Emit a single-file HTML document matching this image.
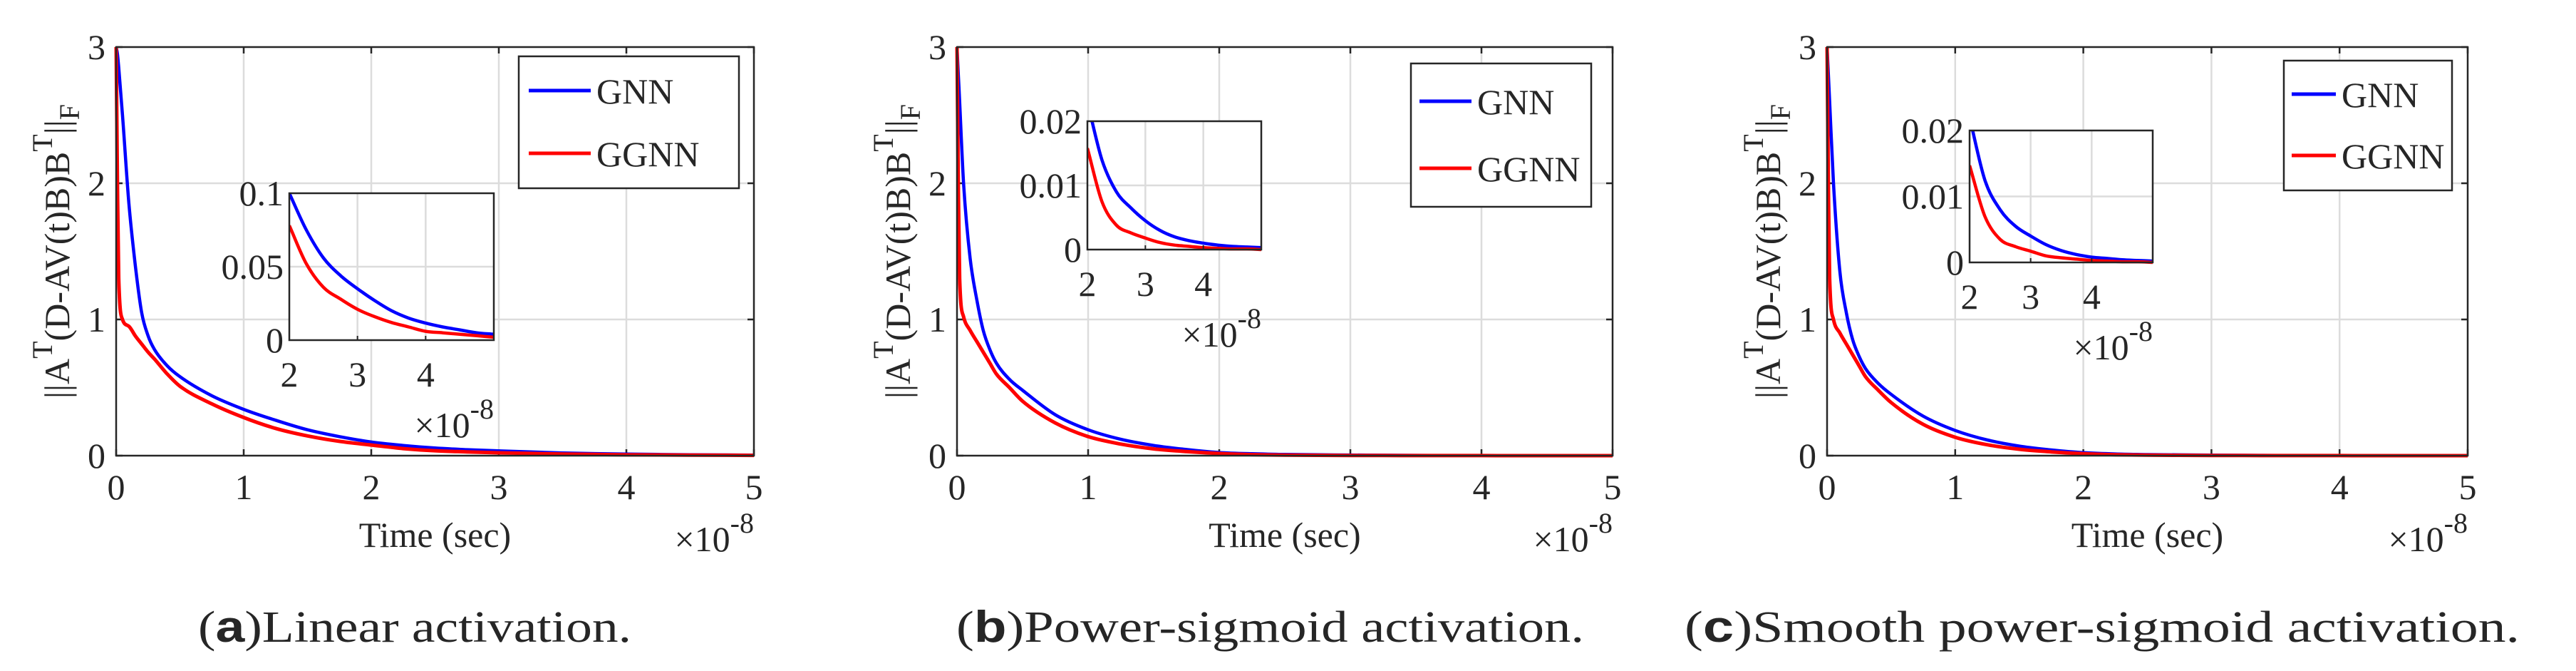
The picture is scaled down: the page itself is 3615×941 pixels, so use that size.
<!DOCTYPE html>
<html><head><meta charset="utf-8"><style>
html,body{margin:0;padding:0;background:#fff}
svg{display:block}
text{font-family:"Liberation Serif",serif;fill:#262626}
</style></head><body>
<svg id="fig" width="3615" height="941" viewBox="0 0 3615 941" xmlns="http://www.w3.org/2000/svg"></svg>
<script>
const times = [0,0.01,0.02,0.05,0.1,0.15,0.2,0.25,0.3,0.4,0.5,0.75,1,1.25,1.5,1.75,2,2.25,2.5,2.75,3,3.25,3.5,3.75,4,4.25,4.5,4.75,5];
const gnnA  = [3,2.95,2.85,2.5,1.85,1.4,1.05,0.88,0.78,0.66,0.58,0.44,0.34,0.26,0.19,0.14,0.1,0.075,0.056,0.044,0.035,0.027,0.02,0.015,0.0116,0.009,0.007,0.005,0.004];
const ggnnA = [3,2.0,1.3,1.0,0.95,0.88,0.82,0.76,0.71,0.6,0.51,0.38,0.28,0.2,0.145,0.105,0.078,0.052,0.036,0.028,0.021,0.016,0.012,0.009,0.006,0.005,0.004,0.003,0.002];
const gnnB  = [3,2.8,2.6,2.0,1.45,1.15,0.92,0.78,0.68,0.56,0.48,0.3,0.19,0.12,0.075,0.045,0.023,0.014,0.009,0.0065,0.0045,0.003,0.002,0.0014,0.001,0.0007,0.0005,0.0004,0.0003];
const ggnnB = [3,2.0,1.3,1.02,0.92,0.84,0.76,0.68,0.6,0.5,0.4,0.24,0.14,0.085,0.05,0.03,0.0158,0.0075,0.0038,0.0026,0.0018,0.0011,0.0007,0.0005,0.0003,0.0002,0.0001,0.0001,0];
const gnnC  = [3,2.8,2.6,2.0,1.35,1.05,0.85,0.73,0.64,0.53,0.45,0.29,0.185,0.115,0.07,0.042,0.022,0.0125,0.008,0.0055,0.004,0.0027,0.0018,0.0012,0.0008,0.0006,0.0004,0.0003,0.0002];
const ggnnC = [3,2.0,1.3,1.0,0.9,0.82,0.74,0.66,0.58,0.48,0.39,0.23,0.135,0.08,0.047,0.028,0.0147,0.007,0.0035,0.0024,0.0017,0.001,0.0007,0.0005,0.0003,0.0002,0.0001,0.0001,0];
const mainXTicks = [0,1,2,3,4,5];
const mainYTicks = [0,1,2,3];
const insetXTicks = [2,3,4];
const insetYTicksA = [0,0.05,0.1];
const insetYTicksBC = [0,0.01,0.02];
const legendLabels = ['GNN','GGNN'];
const captions = ['Linear activation.','Power-sigmoid activation.','Smooth power-sigmoid activation.'];

const NS='http://www.w3.org/2000/svg';
const svg=document.getElementById('fig');
function mk(tag,attrs,parent){const e=document.createElementNS(NS,tag);for(const k in attrs)e.setAttribute(k,attrs[k]);(parent||svg).appendChild(e);return e;}
// monotone cubic path (Fritsch-Carlson)
function monoPath(P){
  const n=P.length;if(n<2)return '';
  const d=[],m=[];
  for(let i=0;i<n-1;i++)d.push((P[i+1][1]-P[i][1])/(P[i+1][0]-P[i][0]||1e-9));
  m[0]=d[0];m[n-1]=d[n-2];
  for(let i=1;i<n-1;i++){m[i]=(d[i-1]*d[i]<=0)?0:(d[i-1]+d[i])/2;}
  for(let i=0;i<n-1;i++){
    if(d[i]===0){m[i]=0;m[i+1]=0;continue;}
    const a=m[i]/d[i],b=m[i+1]/d[i],s=a*a+b*b;
    if(s>9){const t=3/Math.sqrt(s);m[i]=t*a*d[i];m[i+1]=t*b*d[i];}
  }
  let s='M'+P[0][0].toFixed(1)+','+P[0][1].toFixed(1);
  for(let i=0;i<n-1;i++){
    const h=(P[i+1][0]-P[i][0])/3;
    s+=' C'+(P[i][0]+h).toFixed(1)+','+(P[i][1]+m[i]*h).toFixed(1)+' '+(P[i+1][0]-h).toFixed(1)+','+(P[i+1][1]-m[i+1]*h).toFixed(1)+' '+P[i+1][0].toFixed(1)+','+P[i+1][1].toFixed(1);
  }
  return s;
}

const panels=[
 {id:'a',L:163,R:1058,T:66,B:639,gnn:gnnA,ggnn:ggnnA,
  leg:{x1:728,x2:1037,y1:79,y2:264,l1:742,l2:829,r1:127,r2:215},
  ins:{L:406,R:693,T:271,B:477,ymax:0.1,yt:insetYTicksA},
  cap:{x1:278,x2:886}},
 {id:'b',L:1343,R:2263,T:66,B:639,gnn:gnnB,ggnn:ggnnB,
  leg:{x1:1980,x2:2233,y1:89,y2:290,l1:1992,l2:2065,r1:142,r2:236},
  ins:{L:1526,R:1770,T:170,B:350,ymax:0.02,yt:insetYTicksBC},
  cap:{x1:1342,x2:2223}},
 {id:'c',L:2564,R:3463,T:66,B:639,gnn:gnnC,ggnn:ggnnC,
  leg:{x1:3205,x2:3441,y1:85,y2:267,l1:3216,l2:3278,r1:132,r2:218},
  ins:{L:2764,R:3021,T:183,B:368,ymax:0.02,yt:insetYTicksBC},
  cap:{x1:2364,x2:3536}}
];

panels.forEach((p,pi)=>{
  const g=mk('g',{});
  
  
  const xs=v=>p.L+(v-0)/5*(p.R-p.L);
  const ys=v=>p.B-(v/3)*(p.B-p.T);
  mainXTicks.forEach(t=>{if(t>0&&t<5){const l=mk('line',{x1:xs(t),x2:xs(t),y1:p.T,y2:p.B,stroke:'#dcdcdc','stroke-width':2.5},g);
    }});
  mainYTicks.forEach(t=>{if(t>0&&t<3){const l=mk('line',{x1:p.L,x2:p.R,y1:ys(t),y2:ys(t),stroke:'#dcdcdc','stroke-width':2.5},g);
    }});
  mainXTicks.forEach(t=>{
    mk('line',{x1:xs(t),x2:xs(t),y1:p.B,y2:p.B-9,stroke:'#262626','stroke-width':2.5},g);
    mk('line',{x1:xs(t),x2:xs(t),y1:p.T,y2:p.T+9,stroke:'#262626','stroke-width':2.5},g);
    const tx=mk('text',{x:xs(t),y:700,'font-size':50,'text-anchor':'middle'},g);tx.textContent=t;
    
  });
  mainYTicks.forEach(t=>{
    mk('line',{x1:p.L,x2:p.L+9,y1:ys(t),y2:ys(t),stroke:'#262626','stroke-width':2.5},g);
    mk('line',{x1:p.R,x2:p.R-9,y1:ys(t),y2:ys(t),stroke:'#262626','stroke-width':2.5},g);
    const tx=mk('text',{x:p.L-15,y:ys(t)+17,'font-size':50,'text-anchor':'end'},g);tx.textContent=t;
    
  });
  const cid='clip-'+p.id;
  const cp=mk('clipPath',{id:cid},g);mk('rect',{x:p.L-3,y:p.T-3,width:p.R-p.L+6,height:p.B-p.T+6},cp);
  [['gnn','#0000ff',4.5],['ggnn','#ff0000',5]].forEach(([k,c,w])=>{
    const P=times.map((t,i)=>[xs(t),ys(p[k][i])]);
    const pl=mk('path',{d:monoPath(P),fill:'none',stroke:c,'stroke-width':w,'stroke-linejoin':'round','clip-path':'url(#'+cid+')'},g);
    
  });
  const box=mk('rect',{x:p.L,y:p.T,width:p.R-p.L,height:p.B-p.T,fill:'none',stroke:'#262626','stroke-width':2.5},g);
  
  const xl=mk('text',{x:(p.L+p.R)/2,y:767,'font-size':50,'text-anchor':'middle'},g);xl.textContent='Time (sec)';
  
  const ex=mk('text',{x:p.R,y:773,'font-size':50,'text-anchor':'end'},g);
  
  ex.innerHTML='×10<tspan dy="-26" font-size="40">-8</tspan>';
  const yl=mk('text',{x:0,y:0,'font-size':50,'text-anchor':'middle',transform:`translate(${p.L-66},${(p.T+p.B)/2}) rotate(-90)`},g);
  
  yl.innerHTML='||A<tspan dy="-24" font-size="40">T</tspan><tspan dy="24">(D-AV(t)B)B</tspan><tspan dy="-24" font-size="40">T</tspan><tspan dy="24">||</tspan><tspan dy="14" font-size="40">F</tspan>';
  const lg=mk('g',{},g);
  mk('rect',{x:p.leg.x1,y:p.leg.y1,width:p.leg.x2-p.leg.x1,height:p.leg.y2-p.leg.y1,fill:'#fff',stroke:'#262626','stroke-width':2.5},lg);
  [[p.leg.r1,'#0000ff'],[p.leg.r2,'#ff0000']].forEach(([y,c],i)=>{
    const e=mk('g',{},lg);
    mk('line',{x1:p.leg.l1,x2:p.leg.l2,y1:y,y2:y,stroke:c,'stroke-width':5},e);
    const t=mk('text',{x:p.leg.l2+8,y:y+18,'font-size':50},e);t.textContent=legendLabels[i];
  });
  const I=p.ins;const ig=mk('g',{},g);
  const ix=v=>I.L+(v-2)/3*(I.R-I.L);const iy=v=>I.B-(v/I.ymax)*(I.B-I.T);
  mk('rect',{x:I.L,y:I.T,width:I.R-I.L,height:I.B-I.T,fill:'#fff'},ig);
  insetXTicks.forEach(t=>{if(t>2)mk('line',{x1:ix(t),x2:ix(t),y1:I.T,y2:I.B,stroke:'#dcdcdc','stroke-width':2.5},ig);});
  I.yt.forEach((t,i)=>{if(i==1)mk('line',{x1:I.L,x2:I.R,y1:iy(t),y2:iy(t),stroke:'#dcdcdc','stroke-width':2.5},ig);});
  const icid='iclip-'+p.id;const icp=mk('clipPath',{id:icid},ig);mk('rect',{x:I.L,y:I.T,width:I.R-I.L,height:I.B-I.T+3},icp);
  [['gnn','#0000ff',4.5],['ggnn','#ff0000',4.5]].forEach(([k,c,w])=>{
    const P=[];times.forEach((t,i)=>{if(t>=2)P.push([ix(t),iy(p[k][i])]);});
    const pl=mk('path',{d:monoPath(P),fill:'none',stroke:c,'stroke-width':w,'stroke-linejoin':'round','clip-path':'url(#'+icid+')'},ig);
    
  });
  mk('rect',{x:I.L,y:I.T,width:I.R-I.L,height:I.B-I.T,fill:'none',stroke:'#262626','stroke-width':2.5},ig);
  insetXTicks.forEach(t=>{
    mk('line',{x1:ix(t),x2:ix(t),y1:I.B,y2:I.B-6,stroke:'#262626','stroke-width':2},ig);
    const tx=mk('text',{x:ix(t),y:I.B+65,'font-size':50,'text-anchor':'middle'},ig);tx.textContent=t;
    
  });
  I.yt.forEach(t=>{
    const tx=mk('text',{x:I.L-8,y:iy(t)+17,'font-size':50,'text-anchor':'end'},ig);tx.textContent=t;
    
  });
  const iex=mk('text',{x:I.R,y:I.B+136,'font-size':50,'text-anchor':'end'},ig);
  
  iex.innerHTML='×10<tspan dy="-26" font-size="40">-8</tspan>';
  const cap=mk('text',{x:p.cap.x1,y:900,'font-size':62,textLength:p.cap.x2-p.cap.x1,lengthAdjust:'spacingAndGlyphs'},g);
  
  cap.innerHTML='(<tspan font-weight="bold" font-family="Liberation Sans, sans-serif">'+p.id+'</tspan>)'+captions[pi];
});
</script>
</body></html>
